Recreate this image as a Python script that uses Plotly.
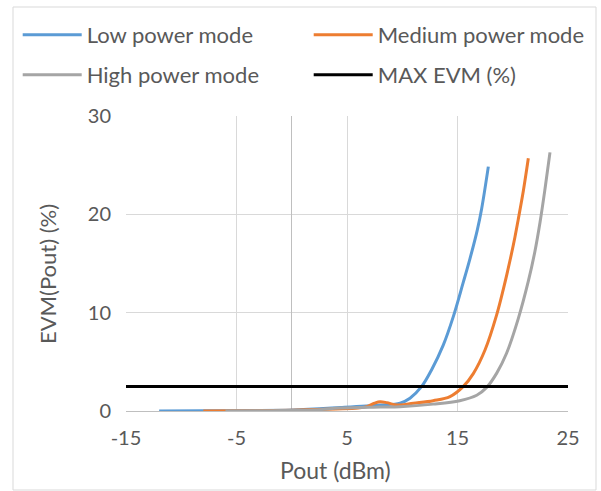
import plotly.graph_objects as go

low_x = [-12, -8, -4, 0, 4.4, 8, 9.8, 10.7, 11.76, 12.66, 13.71, 14.62, 15.5, 16.13, 16.79, 17.19, 17.79]
low_y = [0.0, 0.02, 0.05, 0.1, 0.35, 0.6, 0.8, 1.3, 2.5, 4.2, 6.7, 9.6, 13.0, 15.5, 18.4, 20.6, 24.85]

med_x = [-8, -4, 0, 4, 6, 6.8, 7.5, 8.0, 8.6, 9.3, 9.8, 11.0, 12.8, 14.32, 15.53, 16.43, 17.49, 18.55, 19.15, 19.75, 20.2, 20.5, 20.96, 21.41]
med_y = [0.0, 0.03, 0.08, 0.2, 0.3, 0.45, 0.8, 0.95, 0.85, 0.65, 0.6, 0.78, 1.05, 1.46, 2.5, 3.8, 6.2, 9.8, 12.4, 15.3, 17.7, 19.5, 22.4, 25.7]

high_x = [-6, -2, 2, 4.4, 8, 9.8, 12.8, 15.2, 16.74, 17.64, 18.55, 19.45, 20.5, 21.41, 22.0, 22.47, 22.92, 23.37]
high_y = [0.0, 0.03, 0.1, 0.3, 0.4, 0.44, 0.7, 1.05, 1.6, 2.4, 3.85, 5.9, 9.4, 13.2, 16.2, 19.2, 22.6, 26.3]

evm_x = [-15, 25]
evm_y = [2.5, 2.5]

x_ticks = [-15, -5, 5, 15, 25]
y_ticks = [0, 10, 20, 30]

FONT = "Lato"
TXT = "#595959"

fig = go.Figure()
fig.add_trace(go.Scatter(x=low_x, y=low_y, mode="lines", name="Low power mode",
                         line=dict(color="#5B9BD5", width=3, shape="spline", smoothing=1.0), legend="legend"))
fig.add_trace(go.Scatter(x=med_x, y=med_y, mode="lines", name="Medium power mode",
                         line=dict(color="#ED7D31", width=3, shape="spline", smoothing=1.0), legend="legend2"))
fig.add_trace(go.Scatter(x=high_x, y=high_y, mode="lines", name="High power mode",
                         line=dict(color="#A5A5A5", width=3, shape="spline", smoothing=1.0), legend="legend3"))
fig.add_trace(go.Scatter(x=evm_x, y=evm_y, mode="lines", name="MAX EVM (%)",
                         line=dict(color="#000000", width=3), legend="legend4"))

legend_common = dict(orientation="h", xanchor="left", yanchor="middle",
                     xref="container", yref="container",
                     font=dict(family=FONT, size=22, color=TXT),
                     itemwidth=59,
                     bgcolor="rgba(0,0,0,0)", borderwidth=0, itemclick=False)

col1 = 17.7 / 601
col2 = (17.7 + 291) / 601
row1 = 1 - 35 / 491
row2 = 1 - 75 / 491

fig.update_layout(
    width=601, height=491,
    margin=dict(l=126, r=33, t=116, b=80, autoexpand=False),
    paper_bgcolor="white", plot_bgcolor="white",
    font=dict(family=FONT, size=20, color=TXT),
    showlegend=True,
    legend=dict(x=col1, y=row1, **legend_common),
    legend2=dict(x=col2, y=row1, **legend_common),
    legend3=dict(x=col1, y=row2, **legend_common),
    legend4=dict(x=col2, y=row2, **legend_common),
    xaxis=dict(range=[-15, 25], tickvals=x_ticks, ticktext=[str(v) for v in x_ticks],
               showgrid=True, gridcolor="#d9d9d9", gridwidth=1,
               zeroline=True, zerolinecolor="#bfbfbf", zerolinewidth=1,
               showline=True, linecolor="#bfbfbf", linewidth=1,
               ticks="", tickfont=dict(family=FONT, size=20, color=TXT),
               ticklabelstandoff=9),
    yaxis=dict(range=[0, 30], tickvals=y_ticks, ticktext=[str(v) for v in y_ticks],
               showgrid=True, gridcolor="#d9d9d9", gridwidth=1,
               zeroline=False, showline=False,
               ticks="", tickfont=dict(family=FONT, size=20, color=TXT),
               ticklabelstandoff=14),
    annotations=[
        dict(text="Pout (dBm)", xref="paper", yref="paper", x=(335 - 126) / 442, y=(411 - 470) / 295,
             xanchor="center", yanchor="middle", showarrow=False,
             font=dict(family=FONT, size=23, color=TXT)),
        dict(text="EVM(Pout) (%)", xref="paper", yref="paper", x=(47 - 126) / 442, y=(411 - 274) / 295,
             xanchor="center", yanchor="middle", showarrow=False, textangle=-90,
             font=dict(family=FONT, size=22, color=TXT)),
    ],
    shapes=[
        dict(type="rect", xref="paper", yref="paper",
             x0=(13 - 126) / 442, x1=(596 - 126) / 442,
             y0=(411 - 490) / 295, y1=(411 - 7) / 295,
             line=dict(color="#d9d9d9", width=1), fillcolor="rgba(0,0,0,0)", layer="below"),
    ],
)

fig.write_html("out.html")
